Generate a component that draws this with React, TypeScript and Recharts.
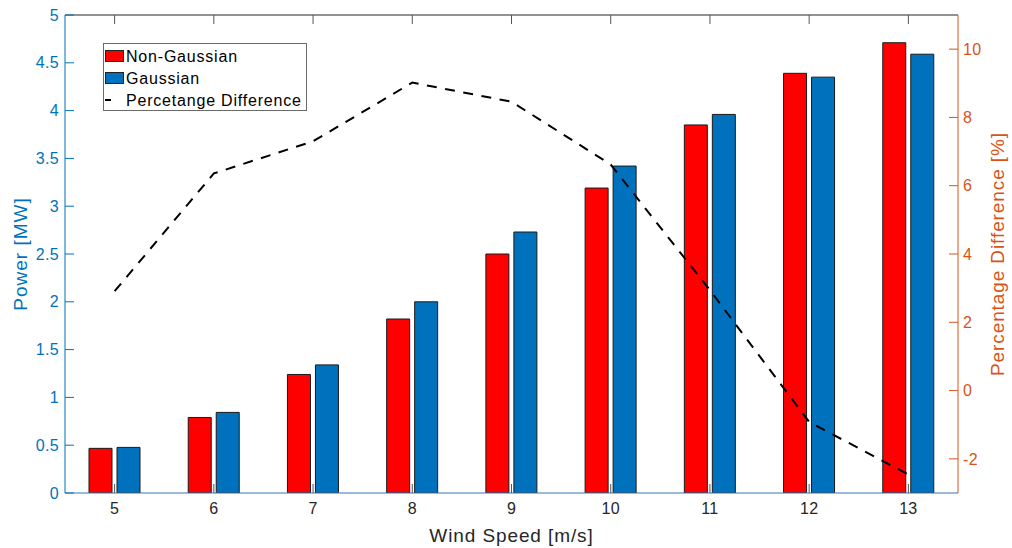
import React from 'react';
import { ComposedChart, Bar, Line, XAxis, YAxis, Legend, Label } from 'recharts';

const speeds = ['5', '6', '7', '8', '9', '10', '11', '12', '13'];
const nonGaussian = [0.467, 0.79, 1.24, 1.82, 2.5, 3.19, 3.85, 4.39, 4.71];
const gaussian = [0.477, 0.843, 1.34, 2.0, 2.73, 3.42, 3.96, 4.35, 4.59];
const percentDiff = [2.91, 6.36, 7.3, 9.02, 8.46, 6.62, 2.94, -0.92, -2.46];
const powerTicks = [0, 0.5, 1, 1.5, 2, 2.5, 3, 3.5, 4, 4.5, 5];
const pctTicks = [-2, 0, 2, 4, 6, 8, 10];

const FONT = '"Liberation Sans", Arial, Helvetica, sans-serif';
const BLUE = '#0072BD';
const RED = '#FF0000';
const ORANGE = '#D95319';
const DARK = '#262626';

const data = speeds.map((s, i) => ({
  speed: s,
  ng: nonGaussian[i],
  g: gaussian[i],
  pct: percentDiff[i],
}));

const XTitle = (props: any) => {
  const vb = props.viewBox || {};
  return (
    <text x={vb.x + vb.width / 2} y={vb.y + 48.5} textAnchor="middle" fill={DARK}
      fontSize={19} letterSpacing={0.9} fontFamily={FONT}>
      Wind Speed [m/s]
    </text>
  );
};

const LeftTitle = (props: any) => {
  const vb = props.viewBox || {};
  const x = vb.x + 27;
  const y = vb.y + vb.height / 2;
  return (
    <text x={x} y={y} transform={`rotate(-90 ${x} ${y})`} textAnchor="middle" fill={BLUE}
      fontSize={19} letterSpacing={1.0} fontFamily={FONT}>
      Power [MW]
    </text>
  );
};

const RightTitle = (props: any) => {
  const vb = props.viewBox || {};
  const x = vb.x + 46;
  const y = vb.y + vb.height / 2;
  return (
    <text x={x} y={y} transform={`rotate(-90 ${x} ${y})`} textAnchor="middle" fill={ORANGE}
      fontSize={19} letterSpacing={0.9} fontFamily={FONT}>
      Percentage Difference [%]
    </text>
  );
};

const LegendBox = () => (
  <svg width={205} height={69} style={{ display: 'block', fontFamily: FONT }}>
    <rect x={0.5} y={0.5} width={203} height={67} fill="#fff" stroke="#6b6b6b" />
    <rect x={2.5} y={7.5} width={18} height={11} fill={RED} stroke="#222" />
    <text x={23} y={19} fontSize={16} letterSpacing={0.8} fill="#000">Non-Gaussian</text>
    <rect x={2.5} y={29.5} width={18} height={11} fill={BLUE} stroke="#222" />
    <text x={23} y={41} fontSize={16} letterSpacing={0.8} fill="#000">Gaussian</text>
    <line x1={2} x2={8} y1={57} y2={57} stroke="#000" strokeWidth={2} />
    <text x={23} y={62.5} fontSize={16} letterSpacing={0.8} fill="#000">Percetange Difference</text>
  </svg>
);

export default function App() {
  return (
    <div style={{ position: 'absolute', left: 0, top: 0, width: 1012, height: 548, background: '#fff' }}>
      <ComposedChart
        width={1012}
        height={548}
        data={data}
        margin={{ top: 0, right: 0, bottom: 0, left: 0 }}
        barGap={5}
        barSize={23}
        style={{ fontFamily: FONT }}
      >
        <XAxis
          xAxisId="top"
          orientation="top"
          dataKey="speed"
          height={15}
          interval={0}
          axisLine={{ stroke: DARK }}
          tickLine={{ stroke: '#555' }}
          tickSize={-9}
          tick={() => <g />}
        />
        <XAxis
          dataKey="speed"
          height={55}
          interval={0}
          axisLine={{ stroke: '#3a76b0' }}
          tickLine={{ stroke: '#555' }}
          tickSize={-9}
          tickMargin={19}
          tick={{ fill: DARK, fontSize: 16, letterSpacing: 0.3 }}
        >
          <Label content={XTitle} />
        </XAxis>
        <YAxis
          yAxisId="left"
          width={65}
          domain={[0, 5]}
          ticks={powerTicks}
          interval={0}
          allowDataOverflow
          axisLine={{ stroke: BLUE }}
          tickLine={{ stroke: BLUE }}
          tickSize={-9}
          tickMargin={15}
          tick={{ fill: BLUE, fontSize: 16, letterSpacing: 0.3 }}
        >
          <Label content={LeftTitle} />
        </YAxis>
        <YAxis
          yAxisId="right"
          orientation="right"
          width={54}
          domain={[-3, 11]}
          ticks={pctTicks}
          interval={0}
          allowDataOverflow
          axisLine={{ stroke: ORANGE }}
          tickLine={{ stroke: ORANGE }}
          tickSize={-9}
          tickMargin={14}
          tick={{ fill: ORANGE, fontSize: 16, letterSpacing: 0.3 }}
        >
          <Label content={RightTitle} />
        </YAxis>
        <Legend
          layout="vertical"
          align="center"
          verticalAlign="middle"
          content={LegendBox}
          wrapperStyle={{ left: 103, top: 43, width: 205, height: 69 }}
        />
        <Bar yAxisId="left" dataKey="ng" name="Non-Gaussian" fill={RED} stroke="#1a1a1a" strokeWidth={1} isAnimationActive={false} />
        <Bar yAxisId="left" dataKey="g" name="Gaussian" fill={BLUE} stroke="#1a1a1a" strokeWidth={1} isAnimationActive={false} />
        <Line
          yAxisId="right"
          dataKey="pct"
          name="Percetange Difference"
          type="linear"
          stroke="#000"
          strokeWidth={2}
          strokeDasharray="10 8.5"
          dot={false}
          activeDot={false}
          isAnimationActive={false}
        />
      </ComposedChart>
    </div>
  );
}
